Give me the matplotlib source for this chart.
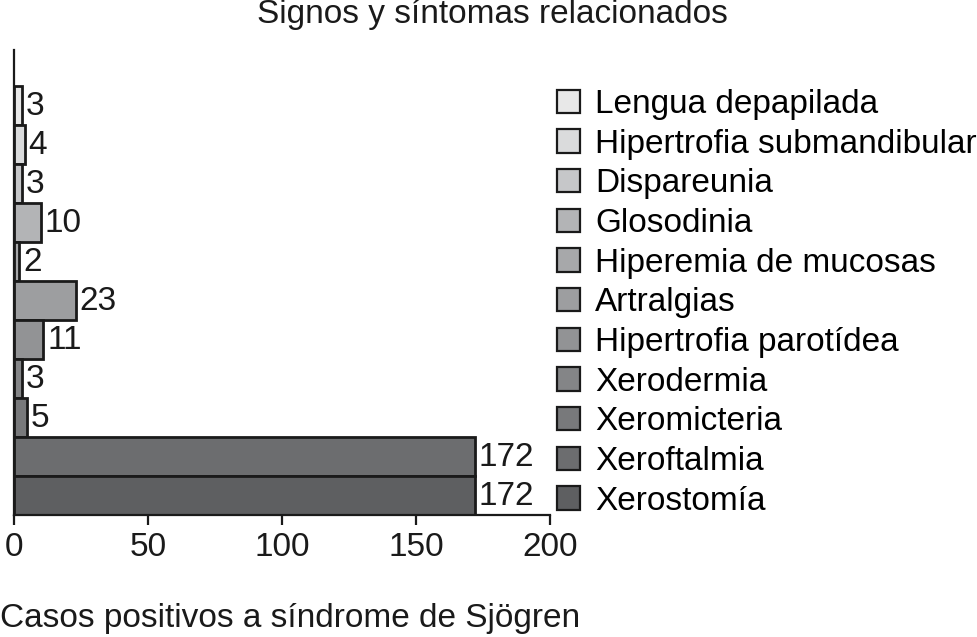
import matplotlib
matplotlib.use("Agg")
import matplotlib.pyplot as plt
from matplotlib.patches import Patch

categories = ["Lengua depapilada", "Hipertrofia submandibular", "Dispareunia", "Glosodinia",
              "Hiperemia de mucosas", "Artralgias", "Hipertrofia parotídea", "Xerodermia",
              "Xeromicteria", "Xeroftalmia", "Xerostomía"]
values = [3, 4, 3, 10, 2, 23, 11, 3, 5, 172, 172]
colors = ["#e8e8e8", "#dadbdc", "#c6c7c9", "#b3b4b6", "#a7a8aa", "#9d9ea0",
          "#929395", "#848587", "#78797b", "#6c6d6f", "#5e5f61"]
xticks = [0, 50, 100, 150, 200]

plt.rcParams['font.family'] = ['Liberation Sans', 'DejaVu Sans']
FS = 24

W, H = 977, 637
fig = plt.figure(figsize=(W/100, H/100), dpi=100)
ax = fig.add_axes([14/W, 1-515/H, (550-14)/W, (515-50)/H])

n = len(categories)
ypos = [n - 0.5 - i for i in range(n)]
bars = ax.barh(ypos, values, height=1.0, color=colors, edgecolor="#1a1a1a", linewidth=2)
for y, v in zip(ypos, values):
    ax.text(v + 1.4, y - 0.03, str(v), va="center", ha="left", fontsize=FS, color="#1a1a1a")

ax.set_xlim(0, 200)
ax.set_ylim(0, 465/39)
ax.set_xticks(xticks)
ax.set_yticks([])
for s in ["top", "right"]:
    ax.spines[s].set_visible(False)
for s in ["left", "bottom"]:
    ax.spines[s].set_linewidth(1.6)
    ax.spines[s].set_color("#1a1a1a")
ax.tick_params(axis="x", direction="out", length=7, width=1.6, labelsize=FS, pad=5, colors="#1a1a1a")

handles = [Patch(facecolor=c, edgecolor="#1a1a1a", linewidth=1.6) for c in colors]
leg = fig.legend(handles, categories, loc="upper left", bbox_to_anchor=(557/W, 1-89/H),
                 frameon=False, fontsize=FS, handlelength=0.7, handleheight=0.7,
                 handletextpad=0.45, labelspacing=0.26, borderaxespad=0, borderpad=0)

fig.text(492/W, 1-15/H, "Signos y síntomas relacionados", ha="center", va="center", fontsize=FS, color="#1a1a1a")
fig.text(0/W, 1-618/H, "Casos positivos a síndrome de Sjögren", ha="left", va="center", fontsize=FS, color="#1a1a1a")

fig.savefig("out.png", dpi=100)
